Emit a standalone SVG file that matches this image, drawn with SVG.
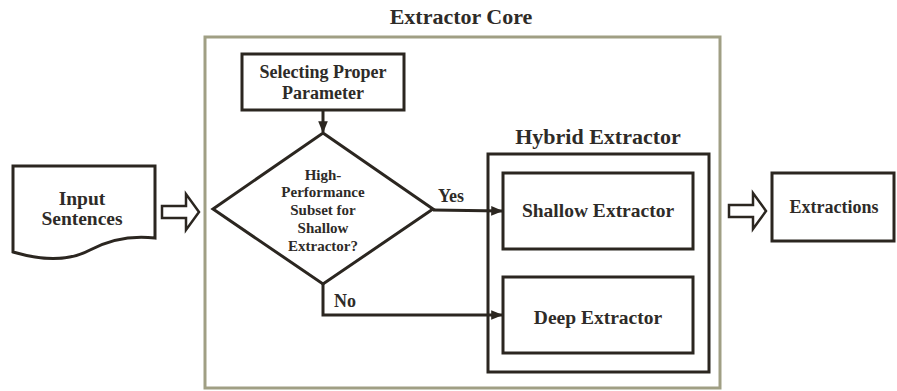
<svg xmlns="http://www.w3.org/2000/svg" width="897" height="391" viewBox="0 0 897 391">
<style>
text{font-family:"Liberation Serif","Times New Roman",serif;font-weight:bold;fill:#2e2b28;text-anchor:middle}
.ln{fill:none;stroke:#2b2620;stroke-width:3}
.box{fill:#fff;stroke:#2b2620;stroke-width:3}
.hol{fill:#fff;stroke:#2b2620;stroke-width:2.5;stroke-linejoin:miter}
.t19{font-size:19.5px}
.t15{font-size:15px}
.t18{font-size:18px}
.t21{font-size:22px}
</style>
<defs>
<marker id="ah" viewBox="0 0 10 10" refX="9" refY="5" markerWidth="4" markerHeight="4" orient="auto" markerUnits="strokeWidth">
<path d="M0,1 L10,5 L0,9 Z" fill="#2b2620"/>
</marker>
</defs>
<rect width="897" height="391" fill="#fff"/>
<g id="core">
<rect x="205" y="37" width="515" height="351" fill="#fff" stroke="#a09f84" stroke-width="3"/>
<text class="t21" x="461" y="24">Extractor Core</text>
</g>
<g id="input">
<path class="box" d="M13,166 H155 V238 Q120,234 90,250 T13,252 Z"/>
<text class="t19" x="82" y="205">Input</text>
<text class="t19" x="82" y="225">Sentences</text>
</g>
<g id="select">
<rect class="box" x="242" y="54" width="162" height="56"/>
<text class="t18" x="323" y="78">Selecting Proper</text>
<text class="t18" x="323" y="99">Parameter</text>
</g>
<g id="decision">
<polygon class="box" points="323,133 433,209 323,284 213,209"/>
<text class="t15" x="323" y="180">High-</text>
<text class="t15" x="323" y="197">Performance</text>
<text class="t15" x="323" y="215">Subset for</text>
<text class="t15" x="323" y="233">Shallow</text>
<text class="t15" x="323" y="251">Extractor?</text>
</g>
<g id="hybrid">
<rect class="box" x="488" y="154" width="221" height="218"/>
<text class="t21" x="598" y="144">Hybrid Extractor</text>
</g>
<g id="shallow">
<rect class="box" x="503" y="173" width="190" height="76"/>
<text class="t19" x="598" y="217">Shallow Extractor</text>
</g>
<g id="deep">
<rect class="box" x="503" y="277" width="190" height="76"/>
<text class="t19" x="598" y="324">Deep Extractor</text>
</g>
<g id="extractions">
<rect class="box" x="772" y="173" width="122" height="68"/>
<text class="t18" x="834" y="213">Extractions</text>
</g>
<g id="connectors">
<polygon class="hol" points="162,206 186,206 186,194 199,212 186,230 186,218 162,218"/>
<polygon class="hol" points="729,205 753,205 753,193 766,211 753,229 753,217 729,217"/>
<line class="ln" x1="323" y1="110" x2="323" y2="132" marker-end="url(#ah)"/>
<line class="ln" x1="433" y1="210" x2="502" y2="211" marker-end="url(#ah)"/>
<polyline class="ln" points="323,284 323,315 502,315" marker-end="url(#ah)"/>
<text class="t18" x="451" y="202">Yes</text>
<text class="t18" x="345" y="307">No</text>
</g>
</svg>
